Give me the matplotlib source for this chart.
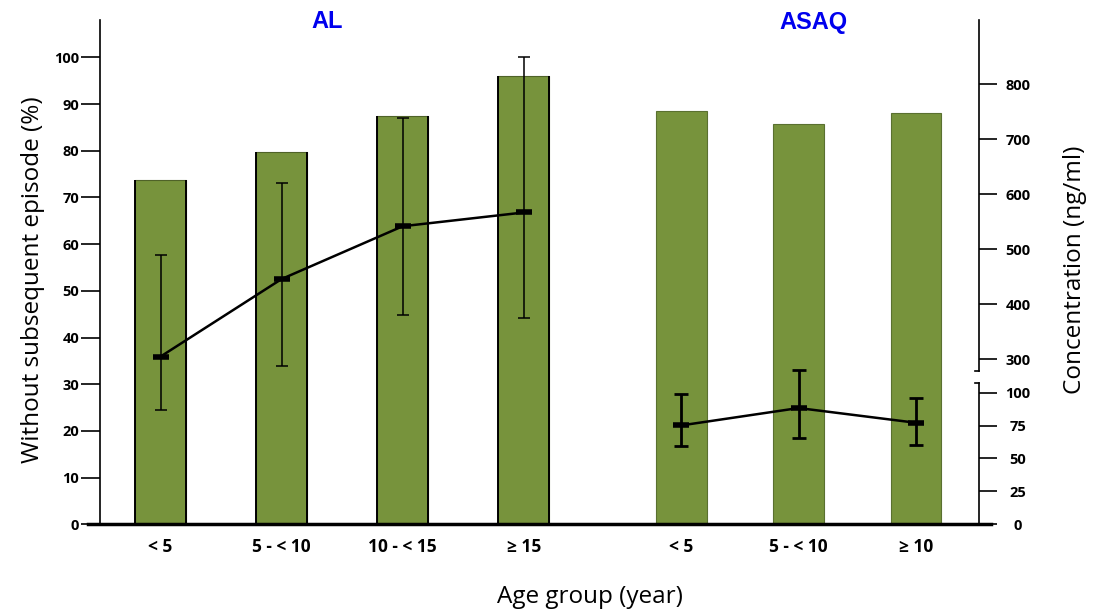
import matplotlib
matplotlib.use('Agg')
import matplotlib.pyplot as plt

# data
al_groups = ['< 5', '5 - < 10', '10 - < 15', '\u2265 15']
asaq_groups = ['< 5', '5 - < 10', '\u2265 10']

al_pct = [73.7, 79.8, 87.4, 96.1]      # without subsequent episode (%)
asaq_pct = [88.5, 85.7, 88.0]

al_conc = [305, 446, 542, 567]          # ng/ml
al_conc_lo = [207, 288, 381, 376]
al_conc_hi = [490, 620, 738, 850]

asaq_conc = [75.1, 88.3, 77.1]          # ng/ml (lower broken scale)
asaq_conc_lo = [59.1, 65.5, 59.9]
asaq_conc_hi = [98.6, 117.4, 96.1]

al_x = [0, 1, 2, 3]
asaq_x = [4.3, 5.27, 6.24]

green = '#77933C'
font = 'Open Sans'

fig = plt.figure(figsize=(10.96, 6.12), dpi=100)
ax = fig.add_axes([100 / 1096, 87.7 / 612, 879 / 1096, 504.3 / 612])

# bars
ax.bar(al_x, al_pct, width=0.42, color=green, edgecolor='#4F6228', linewidth=0.8, zorder=2)
ax.bar(asaq_x, asaq_pct, width=0.42, color=green, edgecolor='#5A7030', linewidth=0.8, zorder=2)
for x, h in zip(al_x, al_pct):
    ax.vlines([x - 0.21, x + 0.21], 0, h, color='black', lw=1.4, zorder=3)

ax.set_xlim(-0.5, 6.76)
ax.set_ylim(0, 108)
ax.set_yticks(range(0, 101, 10))
ax.set_xticks(al_x + asaq_x)
ax.set_xticklabels(al_groups + asaq_groups, fontsize=12.5, fontweight='bold', family=font)
ax.tick_params(axis='x', length=0, pad=10)
ax.tick_params(axis='y', direction='out', length=14, width=1.2, pad=1)
for t in ax.get_yticklabels():
    t.set_fontsize(10.5)
    t.set_fontweight('bold')
    t.set_family(font)
for s in ['top', 'right', 'bottom']:
    ax.spines[s].set_visible(False)
ax.spines['left'].set_linewidth(1.2)
ax.axhline(0, xmin=-0.014, xmax=1.014, color='black', lw=2.5, clip_on=False, zorder=4)

# upper right scale (AL concentrations)
ax2 = ax.twinx()
ax2.set_ylim(0, 917)
ax2.plot(al_x, al_conc, color='black', lw=1.8, marker='_', ms=11, mew=4, zorder=5)
ax2.errorbar(al_x, al_conc,
             yerr=[[c - lo for c, lo in zip(al_conc, al_conc_lo)],
                   [hi - c for c, hi in zip(al_conc, al_conc_hi)]],
             fmt='none', ecolor='black', elinewidth=1.1, capsize=4, capthick=1.1)
ax2.set_yticks(range(300, 801, 100))
ax2.spines['right'].set_bounds(278, 917)

# lower right scale (ASAQ concentrations)
ax3 = ax.twinx()
ax3.set_ylim(0, 383)
ax3.plot(asaq_x, asaq_conc, color='black', lw=1.8, marker='_', ms=11, mew=4, zorder=5)
ax3.errorbar(asaq_x, asaq_conc,
             yerr=[[c - lo for c, lo in zip(asaq_conc, asaq_conc_lo)],
                   [hi - c for c, hi in zip(asaq_conc, asaq_conc_hi)]],
             fmt='none', ecolor='black', elinewidth=2, capsize=5, capthick=2)
ax3.set_yticks(range(0, 101, 25))
ax3.spines['right'].set_bounds(0, 107.5)

for a in (ax2, ax3):
    for s in ['top', 'left', 'bottom']:
        a.spines[s].set_visible(False)
    a.spines['right'].set_linewidth(1.2)
    a.tick_params(axis='y', direction='out', length=13, width=1.2, pad=15)
    for t in a.get_yticklabels():
        t.set_fontsize(10.5)
        t.set_fontweight('bold')
        t.set_family(font)
        t.set_horizontalalignment('center')

# break marks on the right axis
ax.plot([0.996, 1.0], [278 / 917, 278 / 917], transform=ax.transAxes,
        color='black', lw=1.2, clip_on=False)
ax.plot([0.996, 1.0], [107.5 / 383, 107.5 / 383], transform=ax.transAxes,
        color='black', lw=1.2, clip_on=False)

# titles and labels
fig.text(327 / 1096, 1 - 22 / 612, 'AL', color='#0000EE', fontsize=17, fontweight='bold',
         family='Liberation Sans', ha='center', va='center')
fig.text(813 / 1096, 1 - 22 / 612, 'ASAQ', color='#0000EE', fontsize=17, fontweight='bold',
         family='Liberation Sans', ha='center', va='center')
fig.text(33 / 1096, 1 - 280 / 612, 'Without subsequent episode (%)', rotation=90,
         fontsize=17.5, family=font, ha='center', va='center')
fig.text(1075 / 1096, 1 - 270 / 612, 'Concentration (ng/ml)', rotation=90,
         fontsize=17.5, family=font, ha='center', va='center')
fig.text(590 / 1096, 1 - 597 / 612, 'Age group (year)', fontsize=17.5, family=font,
         ha='center', va='center')

fig.savefig('out.png', dpi=100)
